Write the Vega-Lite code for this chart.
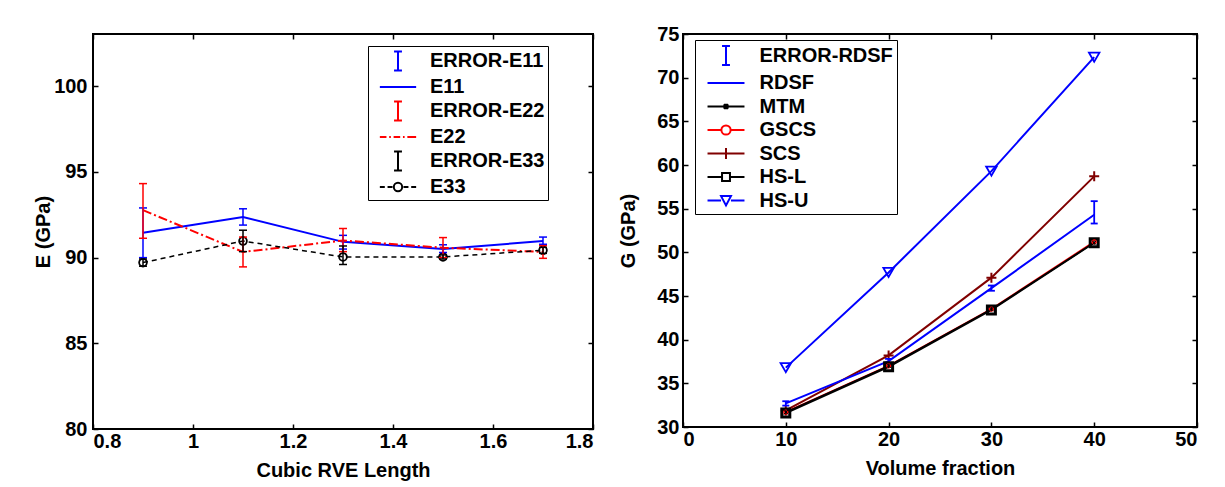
{
  "$schema": "https://vega.github.io/schema/vega-lite/v6.json",
  "background": "white",
  "padding": {"left": 32, "top": 23, "right": 5, "bottom": 2},
  "datasets": {
    "left": [
      {"s": "E11", "x": 0.9, "y": 91.45, "lo": 90.0, "hi": 92.9},
      {"s": "E11", "x": 1.1, "y": 92.37, "lo": 91.9, "hi": 92.85},
      {"s": "E11", "x": 1.3, "y": 90.92, "lo": 90.5, "hi": 91.3},
      {"s": "E11", "x": 1.5, "y": 90.5, "lo": 90.3, "hi": 90.75},
      {"s": "E11", "x": 1.7, "y": 90.97, "lo": 90.78, "hi": 91.2},
      {"s": "E22", "x": 0.9, "y": 92.77, "lo": 91.13, "hi": 94.32},
      {"s": "E22", "x": 1.1, "y": 90.33, "lo": 89.46, "hi": 91.2},
      {"s": "E22", "x": 1.3, "y": 91.0, "lo": 90.35, "hi": 91.7},
      {"s": "E22", "x": 1.5, "y": 90.58, "lo": 90.0, "hi": 91.17},
      {"s": "E22", "x": 1.7, "y": 90.33, "lo": 89.96, "hi": 90.7},
      {"s": "E33", "x": 0.9, "y": 89.71, "lo": 89.5, "hi": 89.92},
      {"s": "E33", "x": 1.1, "y": 90.97, "lo": 90.35, "hi": 91.6},
      {"s": "E33", "x": 1.3, "y": 90.04, "lo": 89.6, "hi": 90.68},
      {"s": "E33", "x": 1.5, "y": 90.04, "lo": 89.92, "hi": 90.16},
      {"s": "E33", "x": 1.7, "y": 90.43, "lo": 90.25, "hi": 90.6}
    ],
    "right": [
      {"s": "HS-U", "x": 10, "y": 36.8},
      {"s": "HS-U", "x": 20, "y": 47.7},
      {"s": "HS-U", "x": 30, "y": 59.3},
      {"s": "HS-U", "x": 40, "y": 72.35},
      {"s": "SCS", "x": 10, "y": 31.9},
      {"s": "SCS", "x": 20, "y": 38.2},
      {"s": "SCS", "x": 30, "y": 47.1},
      {"s": "SCS", "x": 40, "y": 58.7},
      {"s": "RDSF", "x": 10, "y": 32.7, "lo": 32.45, "hi": 32.95},
      {"s": "RDSF", "x": 20, "y": 37.55, "lo": 37.3, "hi": 37.8},
      {"s": "RDSF", "x": 30, "y": 45.9, "lo": 45.6, "hi": 46.2},
      {"s": "RDSF", "x": 40, "y": 54.3, "lo": 53.3, "hi": 55.86},
      {"s": "HS-L", "x": 10, "y": 31.6},
      {"s": "HS-L", "x": 20, "y": 36.9},
      {"s": "HS-L", "x": 30, "y": 43.4},
      {"s": "HS-L", "x": 40, "y": 51.1},
      {"s": "MTM", "x": 10, "y": 31.7},
      {"s": "MTM", "x": 20, "y": 37.0},
      {"s": "MTM", "x": 30, "y": 43.5},
      {"s": "MTM", "x": 40, "y": 51.1},
      {"s": "GSCS", "x": 10, "y": 31.7},
      {"s": "GSCS", "x": 20, "y": 37.0},
      {"s": "GSCS", "x": 30, "y": 43.5},
      {"s": "GSCS", "x": 40, "y": 51.2}
    ],
    "leftLegend": [
      {"k": "ERROR-E11"}, {"k": "E11"}, {"k": "ERROR-E22"}, {"k": "E22"}, {"k": "ERROR-E33"}, {"k": "E33"}
    ],
    "rightLegend": [
      {"k": "ERROR-RDSF"}, {"k": "RDSF"}, {"k": "MTM"}, {"k": "GSCS"}, {"k": "SCS"}, {"k": "HS-L"}, {"k": "HS-U"}
    ]
  },
  "bounds": "flush",
  "spacing": 90,
  "resolve": {
    "scale": {"color": "independent", "shape": "independent"},
    "legend": {"color": "independent", "shape": "independent"}
  },
  "hconcat": [
    {
      "width": 500,
      "height": 395,
      "resolve": {"axis": {"x": "independent", "y": "independent"}},
      "layer": [
        {
          "data": {"name": "left"},
          "mark": {"type": "point", "opacity": 0},
          "encoding": {
            "x": {"field": "x", "type": "quantitative", "scale": {"domain": [0.8, 1.8], "nice": false, "zero": false},
              "axis": {"values": [0.8, 1, 1.2, 1.4, 1.6, 1.8], "format": "~g", "title": "Cubic RVE Length", "labelPadding": 7, "titlePadding": 9}},
            "y": {"field": "y", "type": "quantitative", "scale": {"domain": [80, 103.05], "nice": false, "zero": false},
              "axis": {"values": [80, 85, 90, 95, 100], "title": "E (GPa)", "labelPadding": 11, "titlePadding": 0}}
          }
        },
        {
          "data": {"name": "left"},
          "mark": {"type": "point", "opacity": 0},
          "encoding": {
            "x": {"field": "x", "type": "quantitative", "axis": {"orient": "top", "values": [0.8, 1, 1.2, 1.4, 1.6, 1.8], "labels": false, "title": null}},
            "y": {"field": "y", "type": "quantitative", "axis": {"orient": "right", "values": [80, 85, 90, 95, 100], "labels": false, "title": null}}
          }
        },
        {
          "data": {"name": "left"},
          "transform": [{"filter": "datum.s === 'E11'"}],
          "mark": {"type": "line", "color": "#0000ff", "strokeWidth": 2},
          "encoding": {"x": {"field": "x", "type": "quantitative", "axis": null}, "y": {"field": "y", "type": "quantitative", "axis": null}}
        },
        {
          "data": {"name": "left"},
          "transform": [{"filter": "datum.s === 'E22'"}],
          "mark": {"type": "line", "color": "#ff0000", "strokeWidth": 2, "strokeDash": [9, 3, 2, 3]},
          "encoding": {"x": {"field": "x", "type": "quantitative", "axis": null}, "y": {"field": "y", "type": "quantitative", "axis": null}}
        },
        {
          "data": {"name": "left"},
          "transform": [{"filter": "datum.s === 'E33'"}],
          "mark": {"type": "line", "color": "#000000", "strokeWidth": 1.5, "strokeDash": [5, 4]},
          "encoding": {"x": {"field": "x", "type": "quantitative", "axis": null}, "y": {"field": "y", "type": "quantitative", "axis": null}}
        },
        {
          "data": {"name": "left"},
          "transform": [{"filter": "datum.s === 'E33'"}],
          "mark": {"type": "point", "shape": "circle", "filled": false, "color": "#000000", "size": 60, "strokeWidth": 1.8, "opacity": 1},
          "encoding": {"x": {"field": "x", "type": "quantitative", "axis": null}, "y": {"field": "y", "type": "quantitative", "axis": null}}
        },
        {
          "data": {"name": "left"},
          "transform": [{"filter": "datum.s === 'E11'"}],
          "mark": {"type": "rule", "color": "#0000ff", "strokeWidth": 1.5},
          "encoding": {"x": {"field": "x", "type": "quantitative", "axis": null}, "y": {"field": "lo", "type": "quantitative", "axis": null}, "y2": {"field": "hi"}}
        },
        {
          "data": {"name": "left"},
          "transform": [{"filter": "datum.s === 'E11'"}, {"fold": ["lo", "hi"], "as": ["b", "v"]}],
          "mark": {"type": "tick", "orient": "horizontal", "color": "#0000ff", "size": 8, "thickness": 1.5, "opacity": 1},
          "encoding": {"x": {"field": "x", "type": "quantitative", "axis": null}, "y": {"field": "v", "type": "quantitative", "axis": null}}
        },
        {
          "data": {"name": "left"},
          "transform": [{"filter": "datum.s === 'E22'"}],
          "mark": {"type": "rule", "color": "#ff0000", "strokeWidth": 1.5},
          "encoding": {"x": {"field": "x", "type": "quantitative", "axis": null}, "y": {"field": "lo", "type": "quantitative", "axis": null}, "y2": {"field": "hi"}}
        },
        {
          "data": {"name": "left"},
          "transform": [{"filter": "datum.s === 'E22'"}, {"fold": ["lo", "hi"], "as": ["b", "v"]}],
          "mark": {"type": "tick", "orient": "horizontal", "color": "#ff0000", "size": 8, "thickness": 1.5, "opacity": 1},
          "encoding": {"x": {"field": "x", "type": "quantitative", "axis": null}, "y": {"field": "v", "type": "quantitative", "axis": null}}
        },
        {
          "data": {"name": "left"},
          "transform": [{"filter": "datum.s === 'E33'"}],
          "mark": {"type": "rule", "color": "#000000", "strokeWidth": 1.5},
          "encoding": {"x": {"field": "x", "type": "quantitative", "axis": null}, "y": {"field": "lo", "type": "quantitative", "axis": null}, "y2": {"field": "hi"}}
        },
        {
          "data": {"name": "left"},
          "transform": [{"filter": "datum.s === 'E33'"}, {"fold": ["lo", "hi"], "as": ["b", "v"]}],
          "mark": {"type": "tick", "orient": "horizontal", "color": "#000000", "size": 8, "thickness": 1.5, "opacity": 1},
          "encoding": {"x": {"field": "x", "type": "quantitative", "axis": null}, "y": {"field": "v", "type": "quantitative", "axis": null}}
        },
        {
          "data": {"name": "leftLegend"},
          "mark": {"type": "point", "opacity": 0, "filled": false, "size": 484, "strokeWidth": 2},
          "encoding": {
            "shape": {"field": "k", "type": "nominal",
              "scale": {"domain": ["ERROR-E11", "E11", "ERROR-E22", "E22", "ERROR-E33", "E33"],
                "range": [
                  "M-0.36,-0.86H0.36M0,-0.86V0.86M-0.36,0.86H0.36",
                  "M-1.65,0H1.65",
                  "M-0.36,-0.86H0.36M0,-0.86V0.86M-0.36,0.86H0.36",
                  "M-1.65,0H-1.05M-0.8,0H-0.65M-0.4,0H0.2M0.45,0H0.6M0.85,0H1.65",
                  "M-0.36,-0.86H0.36M0,-0.86V0.86M-0.36,0.86H0.36",
                  "M-1.65,0H-1.2M-0.95,0H-0.5M0.5,0H0.95M1.2,0H1.65M0.38,0A0.38,0.38 0 1 1 -0.38,0A0.38,0.38 0 1 1 0.38,0"
                ]},
              "legend": {"title": null, "orient": "none", "legendX": 275, "legendY": 12, "strokeColor": "black", "fillColor": "white", "padding": 3, "symbolSize": 484, "symbolStrokeWidth": 2, "symbolOffset": 15, "labelOffset": 20, "labelFont": "Liberation Sans", "labelFontSize": 20, "labelFontWeight": "bold", "labelColor": "black", "symbolOpacity": 1, "labelLimit": 300, "labelExpr": "datum.label + '\u00a0'", "rowPadding": 0}},
            "color": {"field": "k", "type": "nominal",
              "scale": {"domain": ["ERROR-E11", "E11", "ERROR-E22", "E22", "ERROR-E33", "E33"],
                "range": ["#0000ff", "#0000ff", "#ff0000", "#ff0000", "#000000", "#000000"]},
              "legend": {"title": null, "orient": "none", "legendX": 275, "legendY": 12, "strokeColor": "black", "fillColor": "white", "padding": 3, "symbolSize": 484, "symbolStrokeWidth": 2, "symbolOffset": 15, "labelOffset": 20, "labelFont": "Liberation Sans", "labelFontSize": 20, "labelFontWeight": "bold", "labelColor": "black", "symbolOpacity": 1, "labelLimit": 300, "labelExpr": "datum.label + '\u00a0'", "rowPadding": 0}}
          }
        }
      ]
    },
    {
      "width": 514,
      "height": 393,
      "resolve": {"axis": {"x": "independent", "y": "independent"}},
      "layer": [
        {
          "data": {"name": "right"},
          "mark": {"type": "point", "opacity": 0},
          "encoding": {
            "x": {"field": "x", "type": "quantitative", "scale": {"domain": [0, 50], "nice": false, "zero": false},
              "axis": {"values": [0, 10, 20, 30, 40, 50], "title": "Volume fraction", "labelPadding": 7, "titlePadding": 9}},
            "y": {"field": "y", "type": "quantitative", "scale": {"domain": [30, 75], "nice": false, "zero": false},
              "axis": {"values": [30, 35, 40, 45, 50, 55, 60, 65, 70, 75], "title": "G (GPa)", "labelPadding": 9, "titlePadding": 18}}
          }
        },
        {
          "data": {"name": "right"},
          "mark": {"type": "point", "opacity": 0},
          "encoding": {
            "x": {"field": "x", "type": "quantitative", "axis": {"orient": "top", "values": [0, 10, 20, 30, 40, 50], "labels": false, "title": null}},
            "y": {"field": "y", "type": "quantitative", "axis": {"orient": "right", "values": [30, 35, 40, 45, 50, 55, 60, 65, 70, 75], "labels": false, "title": null}}
          }
        },
        {
          "data": {"name": "right"},
          "transform": [{"filter": "datum.s === 'HS-U'"}],
          "mark": {"type": "line", "color": "#0000ff", "strokeWidth": 2},
          "encoding": {"x": {"field": "x", "type": "quantitative", "axis": null}, "y": {"field": "y", "type": "quantitative", "axis": null}}
        },
        {
          "data": {"name": "right"},
          "transform": [{"filter": "datum.s === 'HS-U'"}],
          "mark": {"type": "point", "shape": "triangle-down", "filled": false, "color": "#0000ff", "size": 110, "strokeWidth": 1.8, "opacity": 1},
          "encoding": {"x": {"field": "x", "type": "quantitative", "axis": null}, "y": {"field": "y", "type": "quantitative", "axis": null}}
        },
        {
          "data": {"name": "right"},
          "transform": [{"filter": "datum.s === 'SCS'"}],
          "mark": {"type": "line", "color": "#800000", "strokeWidth": 2},
          "encoding": {"x": {"field": "x", "type": "quantitative", "axis": null}, "y": {"field": "y", "type": "quantitative", "axis": null}}
        },
        {
          "data": {"name": "right"},
          "transform": [{"filter": "datum.s === 'SCS'"}],
          "mark": {"type": "point", "shape": "M-1,0H1M0,-1V1", "filled": false, "color": "#800000", "size": 100, "strokeWidth": 2, "opacity": 1},
          "encoding": {"x": {"field": "x", "type": "quantitative", "axis": null}, "y": {"field": "y", "type": "quantitative", "axis": null}}
        },
        {
          "data": {"name": "right"},
          "transform": [{"filter": "datum.s === 'GSCS'"}],
          "mark": {"type": "line", "color": "#ff0000", "strokeWidth": 2},
          "encoding": {"x": {"field": "x", "type": "quantitative", "axis": null}, "y": {"field": "y", "type": "quantitative", "axis": null}}
        },
        {
          "data": {"name": "right"},
          "transform": [{"filter": "datum.s === 'HS-L'"}],
          "mark": {"type": "line", "color": "#000000", "strokeWidth": 2},
          "encoding": {"x": {"field": "x", "type": "quantitative", "axis": null}, "y": {"field": "y", "type": "quantitative", "axis": null}}
        },
        {
          "data": {"name": "right"},
          "transform": [{"filter": "datum.s === 'MTM'"}],
          "mark": {"type": "line", "color": "#000000", "strokeWidth": 1.5},
          "encoding": {"x": {"field": "x", "type": "quantitative", "axis": null}, "y": {"field": "y", "type": "quantitative", "axis": null}}
        },
        {
          "data": {"name": "right"},
          "transform": [{"filter": "datum.s === 'RDSF'"}],
          "mark": {"type": "line", "color": "#0000ff", "strokeWidth": 2},
          "encoding": {"x": {"field": "x", "type": "quantitative", "axis": null}, "y": {"field": "y", "type": "quantitative", "axis": null}}
        },
        {
          "data": {"name": "right"},
          "transform": [{"filter": "datum.s === 'RDSF'"}],
          "mark": {"type": "rule", "color": "#0000ff", "strokeWidth": 1.8},
          "encoding": {"x": {"field": "x", "type": "quantitative", "axis": null}, "y": {"field": "lo", "type": "quantitative", "axis": null}, "y2": {"field": "hi"}}
        },
        {
          "data": {"name": "right"},
          "transform": [{"filter": "datum.s === 'RDSF'"}, {"fold": ["lo", "hi"], "as": ["b", "v"]}],
          "mark": {"type": "tick", "orient": "horizontal", "color": "#0000ff", "size": 7, "thickness": 1.8, "opacity": 1},
          "encoding": {"x": {"field": "x", "type": "quantitative", "axis": null}, "y": {"field": "v", "type": "quantitative", "axis": null}}
        },
        {
          "data": {"name": "right"},
          "transform": [{"filter": "datum.s === 'HS-L'"}],
          "mark": {"type": "point", "shape": "square", "filled": false, "color": "#000000", "size": 64, "strokeWidth": 3, "opacity": 1},
          "encoding": {"x": {"field": "x", "type": "quantitative", "axis": null}, "y": {"field": "y", "type": "quantitative", "axis": null}}
        },
        {
          "data": {"name": "right"},
          "transform": [{"filter": "datum.s === 'GSCS'"}],
          "mark": {"type": "point", "shape": "circle", "filled": false, "color": "#ff0000", "size": 14, "strokeWidth": 1.5, "opacity": 1},
          "encoding": {"x": {"field": "x", "type": "quantitative", "axis": null}, "y": {"field": "y", "type": "quantitative", "axis": null}}
        },
        {
          "data": {"name": "right"},
          "transform": [{"filter": "datum.s === 'MTM'"}],
          "mark": {"type": "point", "shape": "M-1,-1L1,1M-1,1L1,-1M0,-1V1", "filled": false, "color": "#000000", "size": 20, "strokeWidth": 1, "opacity": 1},
          "encoding": {"x": {"field": "x", "type": "quantitative", "axis": null}, "y": {"field": "y", "type": "quantitative", "axis": null}}
        },
        {
          "data": {"name": "rightLegend"},
          "mark": {"type": "point", "opacity": 0, "filled": false, "size": 484, "strokeWidth": 2},
          "encoding": {
            "shape": {"field": "k", "type": "nominal",
              "scale": {"domain": ["ERROR-RDSF", "RDSF", "MTM", "GSCS", "SCS", "HS-L", "HS-U"],
                "range": [
                  "M-0.36,-0.86H0.36M0,-0.86V0.86M-0.36,0.86H0.36",
                  "M-1.68,0H1.68",
                  "M-1.68,0H1.68M-0.2,-0.2L0.2,0.2M-0.2,0.2L0.2,-0.2M0,-0.25V0.25",
                  "M-1.68,0H-0.42M0.42,0H1.68M0.42,0A0.42,0.42 0 1 1 -0.42,0A0.42,0.42 0 1 1 0.42,0",
                  "M-1.68,0H1.68M0,-0.5V0.5",
                  "M-1.68,0H-0.36M0.36,0H1.68M-0.36,-0.36H0.36V0.36H-0.36Z",
                  "M-1.68,0H-0.45M0.45,0H1.68M-0.45,-0.4H0.45L0,0.45Z"
                ]},
              "legend": {"title": null, "orient": "none", "legendX": 12, "legendY": 6, "strokeColor": "black", "fillColor": "white", "padding": 3.5, "symbolSize": 484, "symbolStrokeWidth": 2, "symbolOffset": 15.5, "labelOffset": 21.5, "labelFont": "Liberation Sans", "labelFontSize": 20, "labelFontWeight": "bold", "labelColor": "black", "symbolOpacity": 1, "labelLimit": 300, "labelExpr": "datum.label + '\u00a0\u00a0'", "rowPadding": 1.5}},
            "color": {"field": "k", "type": "nominal",
              "scale": {"domain": ["ERROR-RDSF", "RDSF", "MTM", "GSCS", "SCS", "HS-L", "HS-U"],
                "range": ["#0000ff", "#0000ff", "#000000", "#ff0000", "#800000", "#000000", "#0000ff"]},
              "legend": {"title": null, "orient": "none", "legendX": 12, "legendY": 6, "strokeColor": "black", "fillColor": "white", "padding": 3.5, "symbolSize": 484, "symbolStrokeWidth": 2, "symbolOffset": 15.5, "labelOffset": 21.5, "labelFont": "Liberation Sans", "labelFontSize": 20, "labelFontWeight": "bold", "labelColor": "black", "symbolOpacity": 1, "labelLimit": 300, "labelExpr": "datum.label + '\u00a0\u00a0'", "rowPadding": 1.5}}
          }
        }
      ]
    }
  ],
  "config": {
    "view": {"stroke": "#000000", "strokeWidth": 2},
    "axis": {
      "domain": false,
      "grid": false,
      "tickColor": "#000000",
      "tickWidth": 1.5,
      "tickSize": -5,
      "labelFont": "Liberation Sans",
      "labelFontSize": 20,
      "labelFontWeight": "bold",
      "labelColor": "#000000",
      "titleFont": "Liberation Sans",
      "titleFontSize": 20,
      "titleFontWeight": "bold",
      "titleColor": "#000000"
    }
  }
}
